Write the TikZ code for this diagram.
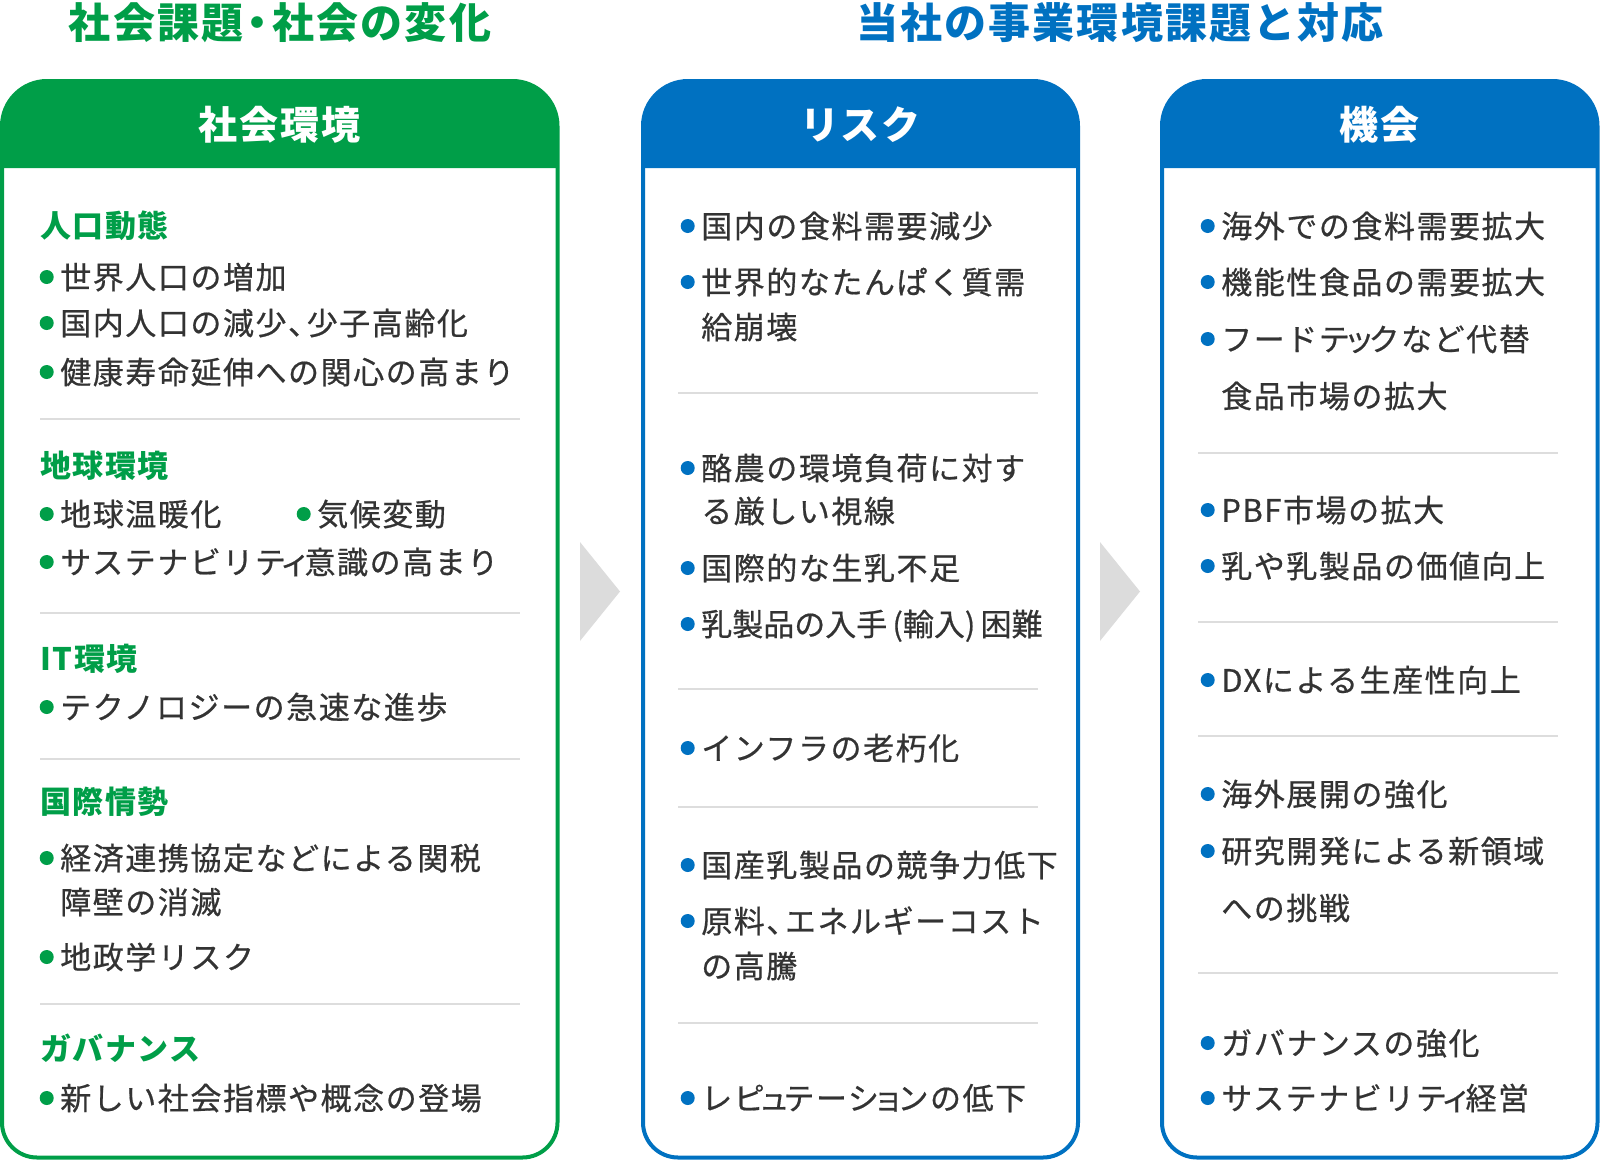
\documentclass[tikz,border=0pt]{standalone}
\usepackage{fontspec}
\setmainfont{Noto Sans CJK JP}[LetterSpace=5,UprightFeatures={FakeBold=0.6}]
\definecolor{socgreen}{HTML}{009E48}
\definecolor{bizblue}{HTML}{0071C1}
\definecolor{textgray}{HTML}{333333}
\definecolor{linegray}{HTML}{DDDDDD}
\definecolor{arrowgray}{HTML}{DCDCDC}
\newcommand\tc{、\kern-0.4em}
\newcommand\sk[1]{\kern-0.2em#1\kern-0.2em}

\begin{document}
\begin{tikzpicture}[x=0.75pt,y=-0.75pt,
		title/.style={inner sep=0pt,text height=26.1pt,text depth=2.2pt,font=\fontsize{31.5}{36}\selectfont\bfseries},
		headtext/.style={inner sep=0pt,text=white,text height=24.3pt,text depth=2pt,font=\fontsize{29.25}{34}\selectfont\bfseries},
		txt/.style={inner sep=0pt,anchor=west,text height=19.3pt,text depth=1.6pt,font=\fontsize{23.25}{28}\selectfont},
		head/.style={txt,text=socgreen,font=\fontsize{23.25}{28}\selectfont\bfseries},
		item/.style={txt,text=textgray},
		gdot/.style={circle,fill=socgreen,inner sep=0pt,minimum size=10.5pt},
		bdot/.style={gdot,fill=bizblue},
		gitem/.style={item,label={[gdot,label distance=4.5pt]left:{}}},
		bitem/.style={item,label={[bdot,label distance=4.5pt]left:{}}},
		divider/.style={linegray,line width=1.5pt},
		frame/.style={line width=3pt}]
	\useasboundingbox (0,0) rectangle (1600,1160);
	\node[title,text=socgreen] (ttlsoc) at (280,22.5) {社会課題\kern-0.15em・\kern-0.15em社会の変化};
	\node[title,text=bizblue] (ttlbiz) at (1120,22.5) {当社の事業環境課題と対応};
	\foreach \xa/\xb/\c/\n/\t in {2/557.5/socgreen/soc/社会環境, 643/1078/bizblue/risk/リスク, 1162/1597.5/bizblue/opp/機会}{
		\fill[\c] (\xa,168) -- (\xa,126) arc (180:270:45) -- (\xb-45,81) arc (270:360:45) -- (\xb,168) -- cycle;
		\draw[\c,frame] (\xa,126) -- (\xa,1122.5) arc (180:90:35) -- (\xb-35,1157.5) arc (90:0:35) -- (\xb,126) arc (0:-90:45) -- (\xa+45,81) arc (270:180:45) -- cycle;
		\node[headtext] (\n) at ({(\xa+\xb)/2},125) {\t};
	}
	\foreach \xa in {580,1100}
		\fill[arrowgray] (\xa,542) -- (\xa,641) -- (\xa+40,591.5) -- cycle;
	% social environment
	\foreach \s/\x/\y/\t [count=\i] in {head/40/226/人口動態, gitem/60/277/世界人口の増加, gitem/60/323/国内人口の減少\tc 少子高齢化, gitem/60/372/健康寿命延伸への関心の高まり,
			head/40/466/地球環境, gitem/60/514/地球温暖化, gitem/317/514/気候変動, gitem/60/562/サステナビリテ\sk{ィ}意識の高まり,
			head/40/659/IT環境, gitem/60/707/テクノロジーの急速な進歩,
			head/40/802/国際情勢, gitem/60/858/経済連携協定などによる関税, item/60/902/障壁の消滅, gitem/60/957/地政学リスク,
			head/40/1049/ガバナンス, gitem/60/1098/新しい社会指標や概念の登場}
		\node[\s] (soc\i) at (\x,\y) {\t};
	\foreach \y in {419,613,759,1004}
		\draw[divider] (40,\y) -- (520,\y);
	% risks
	\foreach \s/\y/\t [count=\i] in {bitem/226/国内の食料需要減少, bitem/282/世界的なたんぱく質需, item/327/給崩壊,
			bitem/468/酪農の環境負荷に対す, item/511/る厳しい視線, bitem/568/国際的な生乳不足,
			bitem/624/{\addfontfeature{LetterSpace=0}乳製品の入手\,(輸入)\,困難},
			bitem/748/インフラの老朽化,
			bitem/865/国産乳製品の競争力低下, bitem/921/原料\tc エネルギーコスト, item/966/の高騰,
			bitem/1098/レピ\sk{ュ}テーシ\sk{ョ}ンの低下}
		\node[\s] (risk\i) at (701,\y) {\t};
	\foreach \y in {393,689,807,1023}
		\draw[divider] (678,\y) -- (1038,\y);
	% opportunities
	\foreach \s/\y/\t [count=\i] in {bitem/226/海外での食料需要拡大, bitem/282/機能性食品の需要拡大, bitem/339/フードテ\sk{ッ}クなど代替, item/396/食品市場の拡大,
			bitem/510/PBF市場の拡大, bitem/566/乳や乳製品の価値向上,
			bitem/680/DXによる生産性向上,
			bitem/794/海外展開の強化, bitem/851/研究開発による新領域, item/908/への挑戦,
			bitem/1043/ガバナンスの強化, bitem/1098/サステナビリテ\sk{ィ}経営}
		\node[\s] (opp\i) at (1221,\y) {\t};
	\foreach \y in {453,622,736,973}
		\draw[divider] (1198,\y) -- (1558,\y);
\end{tikzpicture}
\end{document}
